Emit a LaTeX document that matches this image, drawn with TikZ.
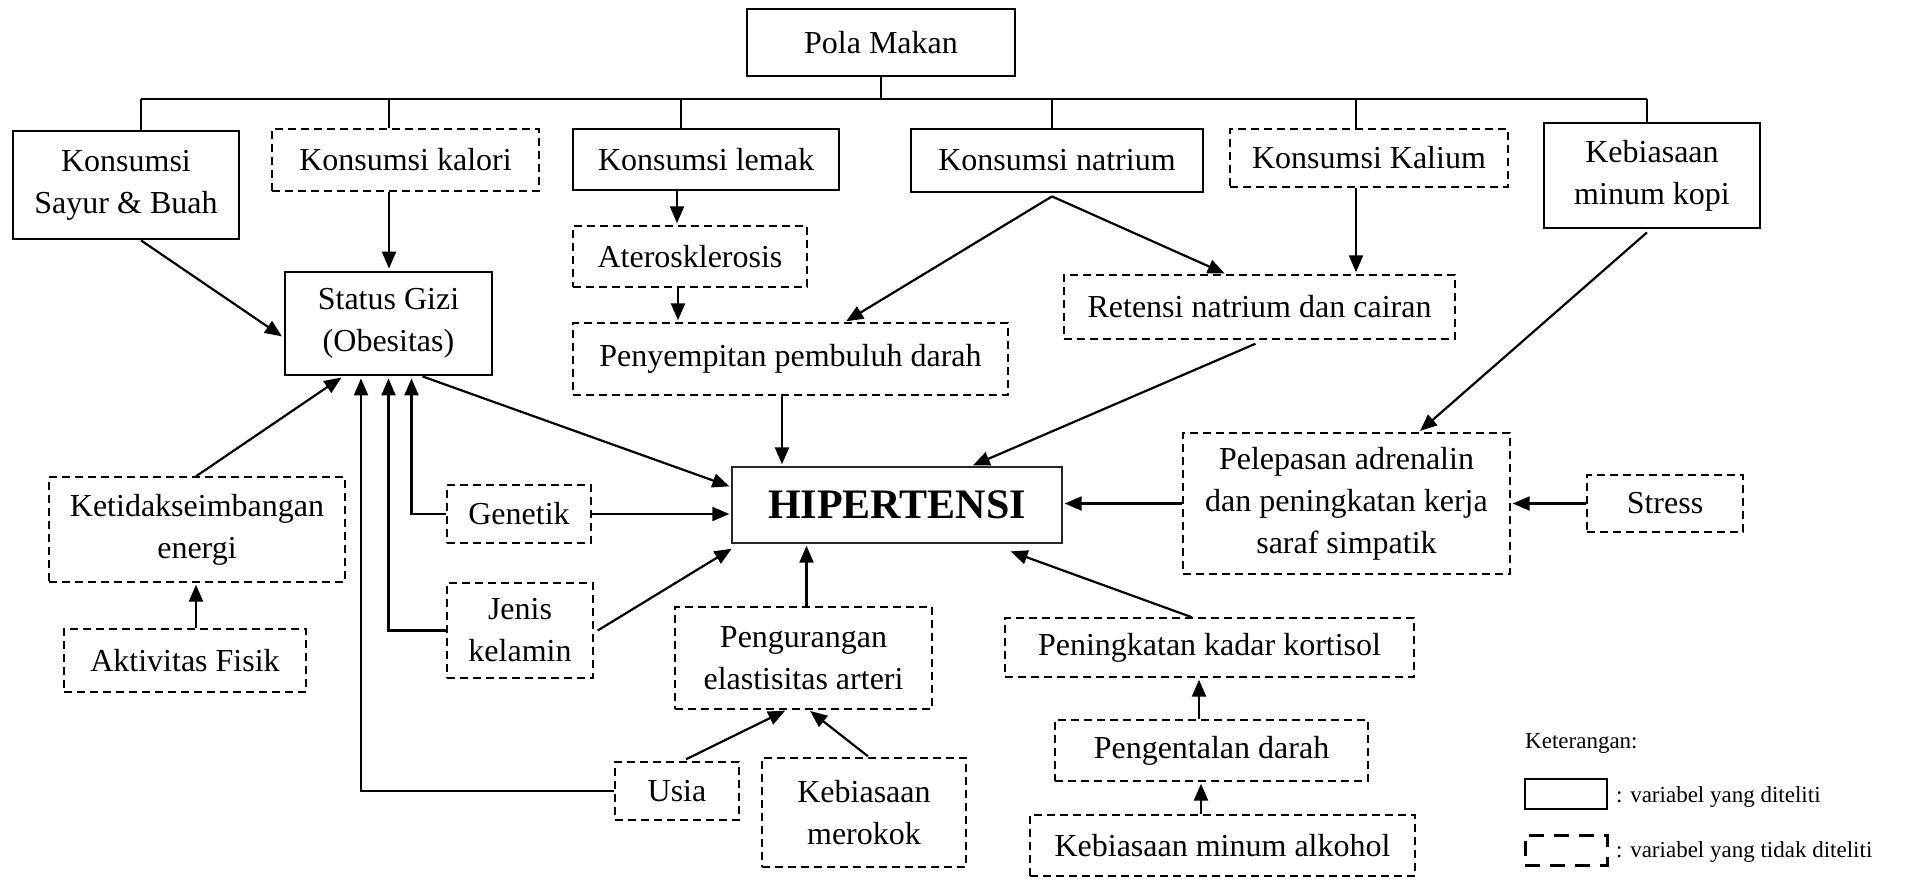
\documentclass[tikz,border=0pt]{standalone}
\usepackage{fontspec}
\setmainfont{Liberation Serif}
\usetikzlibrary{arrows.meta,calc}
\begin{document}
\begin{tikzpicture}[x=1pt,y=-1pt,
  txt/.style={align=center, inner sep=0pt, font=\fontsize{32}{42}\selectfont},
  box/.style={txt, draw, line width=2.8pt},
  dbox/.style={txt, draw, line width=1.4pt, dash pattern=on 8pt off 5pt},
  arr/.style={line width=2.2pt, -{Triangle[length=17pt,width=14pt]}, shorten >=2pt},
  ln/.style={line width=1.7pt},
  small/.style={inner sep=0pt, font=\fontsize{23}{28}\selectfont}]
\useasboundingbox (0,0) rectangle (1910,878);

% top row
\node[box, minimum width=268pt, minimum height=67pt] (pola) at (881,42.5) {Pola Makan};
\node[box, minimum width=226pt, minimum height=108pt] (sayur) at (126,185) {Konsumsi\\Sayur \& Buah};
\node[dbox, minimum width=267pt, minimum height=62pt] (kalori) at (405.5,160) {Konsumsi kalori};
\node[box, minimum width=266pt, minimum height=61pt] (lemak) at (706,159.5) {Konsumsi lemak};
\node[box, minimum width=292pt, minimum height=63pt] (natrium) at (1057,160.5) {Konsumsi natrium};
\node[dbox, minimum width=278pt, minimum height=58pt] (kalium) at (1369,158) {Konsumsi Kalium};
\node[box, minimum width=216pt, minimum height=105pt] (kopi) at (1652,175.5) {Kebiasaan\\minum kopi};

% middle
\node[box, minimum width=207pt, minimum height=103pt] (gizi) at (388.5,323.5) {Status Gizi\\(Obesitas)};
\node[dbox, minimum width=234pt, minimum height=61pt] (atero) at (690,256.5) {Aterosklerosis};
\node[dbox, minimum width=435pt, minimum height=72pt] (penyempitan) at (790.5,359) {Penyempitan pembuluh darah};
\node[dbox, minimum width=391pt, minimum height=64pt] (retensi) at (1259.5,307) {Retensi natrium dan cairan};
\node[txt, draw, line width=1.4pt, draw=black!85, minimum width=330pt, minimum height=76pt, font=\fontsize{42}{48}\selectfont\bfseries] (hiper) at (897,505) {HIPERTENSI};
\node[dbox, minimum width=296pt, minimum height=105pt] (ketidak) at (197,529.5) {Ketidakseimbangan\\energi};
\node[dbox, minimum width=144pt, minimum height=58pt] (genetik) at (519,514) {Genetik};
\node[dbox, minimum width=146pt, minimum height=95pt] (jenis) at (520,630.5) {Jenis\\kelamin};
\node[dbox, minimum width=257pt, minimum height=102pt] (pengurangan) at (803.5,658) {Pengurangan\\elastisitas arteri};
\node[dbox, minimum width=242pt, minimum height=63pt] (aktivitas) at (185,660.5) {Aktivitas Fisik};
\node[dbox, minimum width=124pt, minimum height=58pt] (usia) at (677,791) {Usia};
\node[dbox, minimum width=204pt, minimum height=109pt] (merokok) at (864,812.5) {Kebiasaan\\merokok};
\node[dbox, minimum width=327pt, minimum height=141pt] (pelepasan) at (1346.5,503.5) {Pelepasan adrenalin\\dan peningkatan kerja\\saraf simpatik};
\node[dbox, minimum width=156pt, minimum height=57pt] (stress) at (1665,503.5) {Stress};
\node[dbox, minimum width=409pt, minimum height=59pt] (kortisol) at (1209.5,647.5) {Peningkatan kadar kortisol};
\node[dbox, minimum width=313pt, minimum height=61pt] (pengentalan) at (1211.5,750.5) {Pengentalan darah};
\node[dbox, minimum width=385pt, minimum height=61pt] (alkohol) at (1222.5,845.5) {Kebiasaan minum alkohol};

% legend
\node[small, anchor=base west] (ket) at (1525,748) {Keterangan:};
\node[draw, line width=2.5pt, minimum width=82pt, minimum height=30pt, inner sep=0pt] (lg1) at (1566,794) {};
\node[small, anchor=base west] (lt1) at (1616,802) {: variabel yang diteliti};
\node[draw, line width=3pt, dash pattern=on 15pt off 10pt, minimum width=82pt, minimum height=30pt, inner sep=0pt] (lg2) at (1566,850) {};
\node[small, anchor=base west] (lt2) at (1616,857) {: variabel yang tidak diteliti};

% bus from Pola Makan
\coordinate (bL) at (141,99);
\coordinate (bR) at (1647,99);
\draw[ln] (bL) -- (bR);
\draw[ln] (pola.south) -- (pola.south |- bL);
\foreach \n/\s in {sayur/15, kalori/-16.5, lemak/-25, natrium/-5, kalium/-13, kopi/-5} {
  \coordinate (t\n) at ([xshift=\s pt]\n.north);
  \draw[ln] (t\n) -- (t\n |- bL);
}

% connectors
\coordinate (c1) at ([xshift=-16.5pt]kalori.south);
\draw[arr] (c1) -- (c1 |- gizi.north);
\draw[arr] ([xshift=15pt]sayur.south) -- ([yshift=-14pt]gizi.west);
\coordinate (c2) at ([xshift=-29pt]lemak.south);
\draw[arr] (c2) -- (c2 |- atero.north);
\coordinate (c3) at ([xshift=-12pt]atero.south);
\draw[arr] (c3) -- (c3 |- penyempitan.north);
\coordinate (nat) at ([xshift=-5pt,yshift=-3pt]natrium.south);
\draw[arr] (nat) -- ([xshift=54pt]penyempitan.north);
\draw[arr] (nat) -- ([xshift=-33pt]retensi.north);
\coordinate (c4) at ([xshift=-13pt]kalium.south);
\draw[arr] (c4) -- (c4 |- retensi.north);
\draw[arr] ([xshift=-4pt,yshift=-4pt]retensi.south) -- ([xshift=74pt]hiper.north);
\draw[arr] ([xshift=-5pt,yshift=-3pt]kopi.south) -- ([xshift=72pt]pelepasan.north);
\draw[arr] ([xshift=34pt]gizi.south) -- ([yshift=18pt]hiper.west);
\coordinate (c5) at ([xshift=-8.5pt]penyempitan.south);
\draw[arr] (c5) -- (c5 |- hiper.north);
\draw[arr] (genetik.east) -- (genetik.east -| hiper.west);
\draw[arr] (genetik.west) -| ([xshift=23pt]gizi.south);
\draw[arr] (jenis.west) -| (gizi.south);
\draw[arr] (usia.west) -| ([xshift=-27.5pt]gizi.south);
\draw[arr] ([xshift=-1pt]ketidak.north) -- ([xshift=-45.5pt]gizi.south);
\draw[arr] ([xshift=4pt]jenis.east) -- ([xshift=2pt,yshift=-4pt]hiper.south west);
\coordinate (c6) at ([xshift=3pt]pengurangan.north);
\draw[arr] (c6) -- (c6 |- hiper.south);
\coordinate (c7) at ([xshift=11pt]aktivitas.north);
\draw[arr] (c7) -- (c7 |- ketidak.south);
\draw[arr] ([xshift=9pt,yshift=2pt]usia.north) -- ([xshift=-16.5pt]pengurangan.south);
\draw[arr] ([xshift=4pt,yshift=1pt]merokok.north) -- ([xshift=5pt]pengurangan.south);
\draw[arr] (pelepasan.west) -- (pelepasan.west -| hiper.east);
\draw[arr] (stress.west) -- (stress.west -| pelepasan.east);
\draw[arr] ([xshift=-17.5pt]kortisol.north) -- ([xshift=-54pt,yshift=-7pt]hiper.south east);
\coordinate (c8) at ([xshift=-12.5pt]pengentalan.north);
\draw[arr] (c8) -- (c8 |- kortisol.south);
\coordinate (c9) at ([xshift=-21.5pt]alkohol.north);
\draw[arr] (c9) -- (c9 |- pengentalan.south);
\end{tikzpicture}
\end{document}
